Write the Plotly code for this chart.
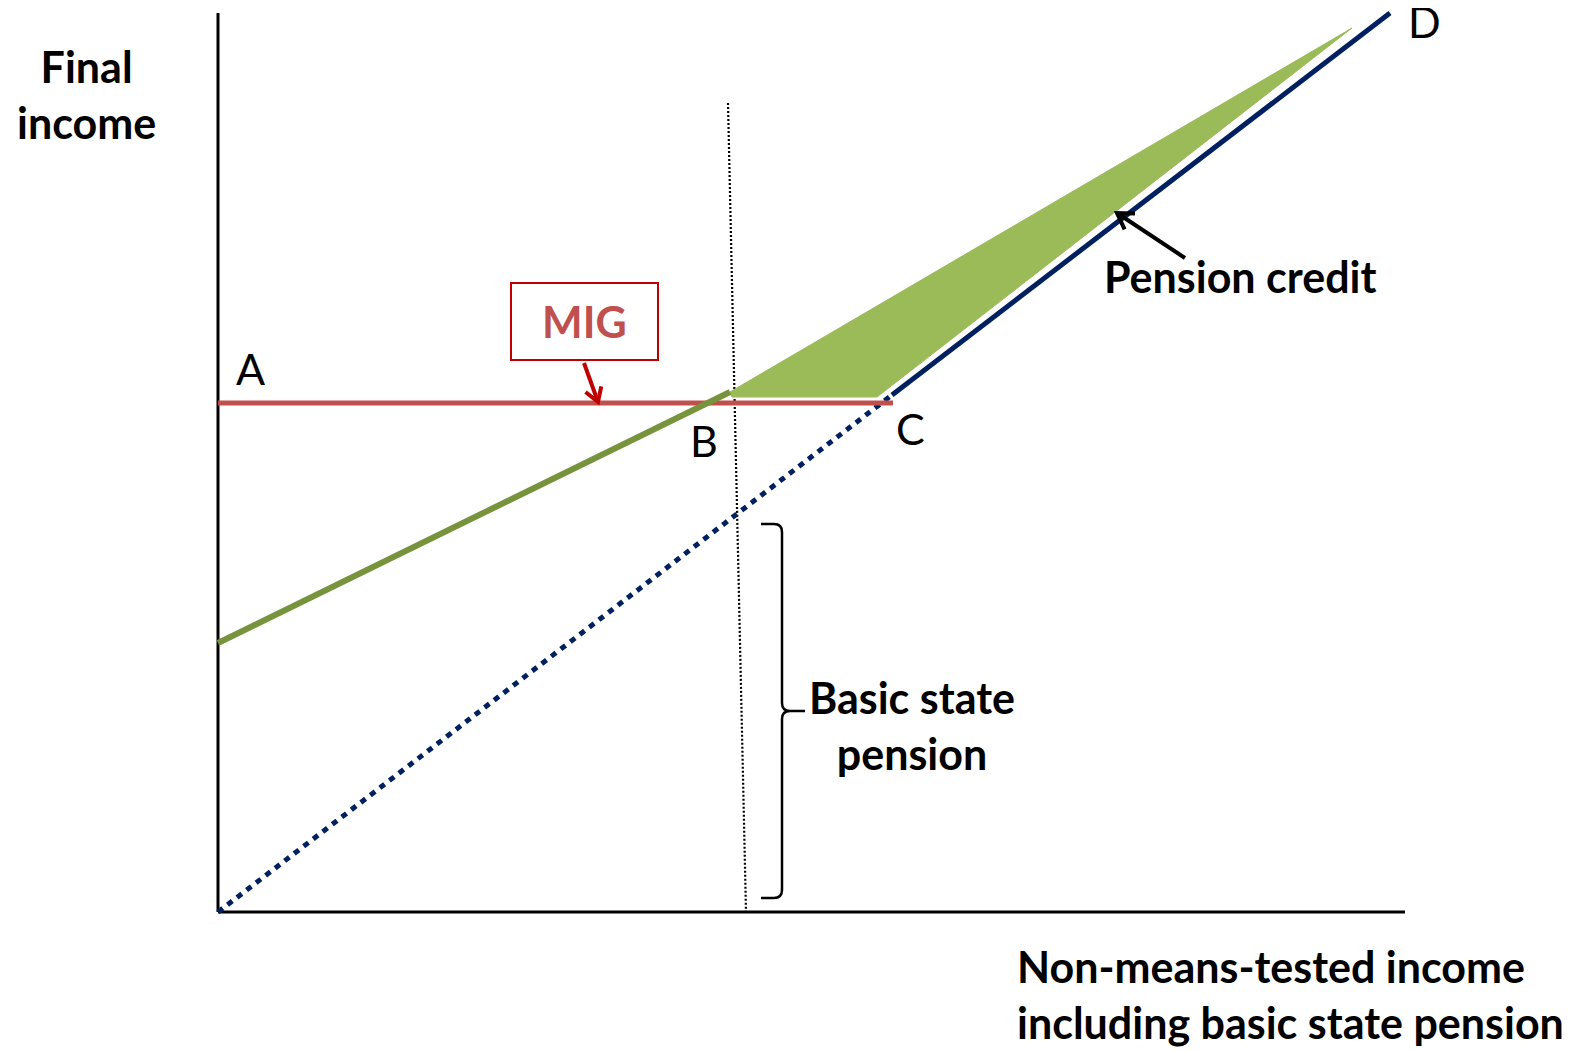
import math
import plotly.graph_objects as go

# ---- diagram data (units measured from the origin of the axes) ----
axis_x_end = 1187
axis_y_top = 899

mig_x = [0, 675]
mig_y = [509, 509]

green_x = [0, 512]
green_y = [269, 520]

credit_fill_x = [512, 1134, 659, 514, 512]
credit_fill_y = [520, 884, 515, 515, 520]

navy_dotted_x = [0, 674]
navy_dotted_y = [0, 517]
navy_solid_x = [674, 1172]
navy_solid_y = [517, 899]

guide_x = [510, 528]
guide_y = [809, 0]

brace_x = {"left": 543, "spine": 564, "tip": 587}
brace_y = {"top": 388, "mid": 201, "bottom": 14}

mig_box = {"x0": 293, "x1": 440, "y0": 552, "y1": 629}
mig_arrow = {"tail": (366, 549), "head": (380, 510)}
credit_arrow = {"tail": (967, 654), "head": (899, 699)}

point_labels = [("A", 32, 544), ("B", 486, 472), ("C", 692, 484), ("D", 1206, 891)]

FONT = "Lato"
RED = "#C0504D"
DARK_RED = "#C00000"
GREEN_LINE = "#77933C"
GREEN_FILL = "#9BBB59"
NAVY = "#002060"

fig = go.Figure()

def line(xs, ys, color, width, dash="solid"):
    fig.add_trace(go.Scatter(x=xs, y=ys, mode="lines", hoverinfo="skip",
                             line=dict(color=color, width=width, dash=dash),
                             showlegend=False))

# axes
line([0, 0], [0, axis_y_top], "black", 3)
line([0, axis_x_end], [0, 0], "black", 3)

# guide dotted line
line(guide_x, guide_y, "black", 2.2, "2px,2px")

# navy line
line(navy_dotted_x, navy_dotted_y, NAVY, 5, "6px,6px")
line(navy_solid_x, navy_solid_y, NAVY, 5)

# pension credit fill
fig.add_trace(go.Scatter(x=credit_fill_x, y=credit_fill_y, mode="lines", fill="toself",
                         fillcolor=GREEN_FILL, line=dict(color=GREEN_FILL, width=1),
                         hoverinfo="skip", showlegend=False))

# MIG line and green line
line(mig_x, mig_y, RED, 5)
line(green_x, green_y, GREEN_LINE, 6)

# arrows drawn as open V heads
def v_arrow(tail, head, color, width, size=16, spread=0.5):
    tx, ty = tail
    hx, hy = head
    ang = math.atan2(ty - hy, tx - hx)
    p1 = (hx + size * math.cos(ang + spread), hy + size * math.sin(ang + spread))
    p2 = (hx + size * math.cos(ang - spread), hy + size * math.sin(ang - spread))
    line([tx, hx], [ty, hy], color, width)
    line([p1[0], hx, p2[0]], [p1[1], hy, p2[1]], color, width)

v_arrow(mig_arrow["tail"], mig_arrow["head"], DARK_RED, 4, 16, 0.55)
v_arrow(credit_arrow["tail"], credit_arrow["head"], "black", 4, 18, 0.55)

# MIG box
fig.add_shape(type="rect", xref="x", yref="y", x0=mig_box["x0"], x1=mig_box["x1"],
              y0=mig_box["y0"], y1=mig_box["y1"], line=dict(color=DARK_RED, width=2),
              fillcolor="white")

# brace
bl, bs, bt = brace_x["left"], brace_x["spine"], brace_x["tip"]
yt, ym, yb = brace_y["top"], brace_y["mid"], brace_y["bottom"]
r = 8
path = (f"M {bl},{yt} L {bs-r},{yt} Q {bs},{yt} {bs},{yt-r} "
        f"L {bs},{ym+r} Q {bs},{ym} {bs+r},{ym} L {bt},{ym} "
        f"M {bs+r},{ym} Q {bs},{ym} {bs},{ym-r} "
        f"L {bs},{yb+r} Q {bs},{yb} {bs-r},{yb} L {bl},{yb}")
fig.add_shape(type="path", xref="x", yref="y", path=path, line=dict(color="black", width=2.5))

def text(x, y, s, size, bold=True, color="black", xanchor="center", align="center"):
    if bold:
        s = "<b>" + s.replace("<br>", "</b><br><b>") + "</b>"
    fig.add_annotation(x=x, y=y, xref="x", yref="y", text=s, showarrow=False,
                       font=dict(family=FONT, size=size, color=color),
                       xanchor=xanchor, yanchor="middle", align=align)

text(-132, 818, "Final<br>income", 43)
text(797, -82, "Non-means-tested income<br>including basic state pension", 43, xanchor="left", align="left")
text(1022, 636, "Pension credit", 43)
text(694, 187, "Basic state<br>pension", 43)
text(366, 591, "MIG", 43, color=RED)
for lab, lx, ly in point_labels:
    text(lx, ly, lab, 43, bold=False)

# page body adds an 8px margin, so the figure is 8px smaller and ranges compensate
fig.update_layout(
    width=1568, height=1042, margin=dict(l=0, r=0, t=0, b=0),
    paper_bgcolor="white", plot_bgcolor="white",
    xaxis=dict(range=[-210, 1358], visible=False, fixedrange=True),
    yaxis=dict(range=[-138, 904], visible=False, fixedrange=True),
    showlegend=False,
)

fig.write_html("out.html")
